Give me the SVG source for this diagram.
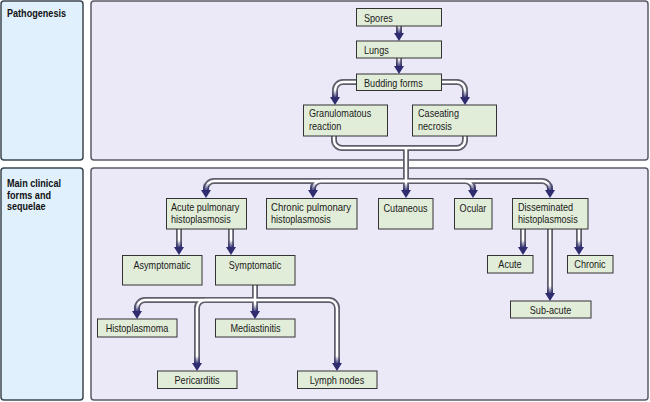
<svg xmlns="http://www.w3.org/2000/svg" xmlns:xlink="http://www.w3.org/1999/xlink" width="650" height="402" viewBox="0 0 650 402">
<style>
.lp{fill:#e0f0fd;stroke:#3b4550;stroke-width:1.5}
.rp{fill:#ebe8f8;stroke:#5b5b66;stroke-width:1.5}
.n{fill:#e2edd9;stroke:#333;stroke-width:1}
.h{font-family:"Liberation Sans",Arial,sans-serif;font-size:11.5px;font-weight:bold;fill:#111}
.t{font-family:"Liberation Sans",Arial,sans-serif;font-size:11px;fill:#1a1a1a}
.c{text-anchor:middle}
</style>
<defs>
<linearGradient id="fade" x1="0" y1="0" x2="0" y2="1">
<stop offset="0" stop-color="#2e2c6e" stop-opacity="0"/>
<stop offset="1" stop-color="#2e2c6e" stop-opacity="1"/>
</linearGradient>
<g id="ah">
<rect x="-3" y="-15" width="6" height="8" fill="url(#fade)"/>
<path d="M-5,-8 L5,-8 L0,0 Z" fill="#2e2c6e"/>
</g>
<g id="pipes" fill="none">
<path d="M399,26 V36"/>
<path d="M399,58 V69"/>
<path d="M356,82 H343 A8,8 0 0 0 335,90 V100"/>
<path d="M442,82 H457 A8,8 0 0 1 465,90 V100"/>
<path d="M334,136 V140 A8,8 0 0 0 342,148 H457 A8,8 0 0 0 465,140 V136"/>
<path d="M406,148 V193"/>
<path d="M406,181 H214 A8,8 0 0 0 206,189 V193"/>
<path d="M406,181 H321 A8,8 0 0 0 313,189 V193"/>
<path d="M406,181 H465 A8,8 0 0 1 473,189 V193"/>
<path d="M406,181 H542 A8,8 0 0 1 550,189 V193"/>
<path d="M179,229 V250"/>
<path d="M231,229 V250"/>
<path d="M523,229 V250"/>
<path d="M579,229 V250"/>
<path d="M550,229 V296"/>
<path d="M255,285 V314"/>
<path d="M255,300 H145 A8,8 0 0 0 137,308 V314"/>
<path d="M255,300 H329 A8,8 0 0 1 337,308 V366"/>
<path d="M255,300 H205 A8,8 0 0 0 197,308 V366"/>
</g>
</defs>

<g id="panel-pathogenesis">
<rect class="lp" x="1" y="1" width="82" height="159" rx="3"/>
<text class="h" x="7" y="17" textLength="59" lengthAdjust="spacingAndGlyphs">Pathogenesis</text>
</g>
<g id="panel-pathogenesis-area">
<rect class="rp" x="91" y="1" width="557" height="159" rx="3"/>
</g>
<g id="panel-clinical">
<rect class="lp" x="1" y="168" width="82" height="232" rx="3"/>
<text class="h" x="7" y="187" textLength="54" lengthAdjust="spacingAndGlyphs">Main clinical</text>
<text class="h" x="7" y="198.5" textLength="44" lengthAdjust="spacingAndGlyphs">forms and</text>
<text class="h" x="7" y="210" textLength="38.5" lengthAdjust="spacingAndGlyphs">sequelae</text>
</g>
<g id="panel-clinical-area">
<rect class="rp" x="91" y="168" width="557" height="232" rx="3"/>
</g>

<g id="connectors">
<use xlink:href="#pipes" stroke="#5f5f6c" stroke-width="6"/>
<use xlink:href="#pipes" stroke="#ffffff" stroke-width="2.5"/>
<use xlink:href="#ah" x="399" y="41"/>
<use xlink:href="#ah" x="399" y="74"/>
<use xlink:href="#ah" x="335" y="105"/>
<use xlink:href="#ah" x="465" y="105"/>
<use xlink:href="#ah" x="206" y="198"/>
<use xlink:href="#ah" x="313" y="198"/>
<use xlink:href="#ah" x="406" y="198"/>
<use xlink:href="#ah" x="473" y="198"/>
<use xlink:href="#ah" x="550" y="198"/>
<use xlink:href="#ah" x="179" y="255"/>
<use xlink:href="#ah" x="231" y="255"/>
<use xlink:href="#ah" x="523" y="255"/>
<use xlink:href="#ah" x="579" y="255"/>
<use xlink:href="#ah" x="550" y="301"/>
<use xlink:href="#ah" x="137" y="319"/>
<use xlink:href="#ah" x="255" y="319"/>
<use xlink:href="#ah" x="197" y="371"/>
<use xlink:href="#ah" x="337" y="371"/>
</g>

<g id="spores"><rect class="n" x="356.5" y="8.5" width="85" height="17.5"/><text class="t" x="364" y="21.5" textLength="28.8" lengthAdjust="spacingAndGlyphs">Spores</text></g>
<g id="lungs"><rect class="n" x="356.5" y="41" width="85" height="17"/><text class="t" x="364" y="54" textLength="24.8" lengthAdjust="spacingAndGlyphs">Lungs</text></g>
<g id="budding"><rect class="n" x="356.5" y="74" width="85" height="16.5"/><text class="t" x="364" y="86.5" textLength="58.7" lengthAdjust="spacingAndGlyphs">Budding forms</text></g>
<g id="granulomatous"><rect class="n" x="303.5" y="105" width="84" height="31"/><text class="t" x="309" y="117" textLength="62.2" lengthAdjust="spacingAndGlyphs">Granulomatous</text><text class="t" x="309" y="129.5" textLength="32.4" lengthAdjust="spacingAndGlyphs">reaction</text></g>
<g id="caseating"><rect class="n" x="412.5" y="105" width="84" height="31"/><text class="t" x="418" y="117" textLength="41" lengthAdjust="spacingAndGlyphs">Caseating</text><text class="t" x="418" y="129.5" textLength="33.9" lengthAdjust="spacingAndGlyphs">necrosis</text></g>

<g id="acute-pulmonary"><rect class="n" x="166.5" y="198.5" width="80" height="30.5"/><text class="t" x="171" y="210.5" textLength="68.3" lengthAdjust="spacingAndGlyphs">Acute pulmonary</text><text class="t" x="171" y="222.5" textLength="59.7" lengthAdjust="spacingAndGlyphs">histoplasmosis</text></g>
<g id="chronic-pulmonary"><rect class="n" x="266.5" y="198.5" width="90.5" height="30.5"/><text class="t" x="271" y="210.5" textLength="80" lengthAdjust="spacingAndGlyphs">Chronic pulmonary</text><text class="t" x="271" y="222.5" textLength="59.7" lengthAdjust="spacingAndGlyphs">histoplasmosis</text></g>
<g id="cutaneous"><rect class="n" x="378.5" y="198.5" width="54.5" height="30.5"/><text class="t c" x="405.5" y="212" textLength="44" lengthAdjust="spacingAndGlyphs">Cutaneous</text></g>
<g id="ocular"><rect class="n" x="454.5" y="198.5" width="37.5" height="30.5"/><text class="t c" x="473" y="212" textLength="26.8" lengthAdjust="spacingAndGlyphs">Ocular</text></g>
<g id="disseminated"><rect class="n" x="512.5" y="198.5" width="75.5" height="30.5"/><text class="t" x="518" y="210.5" textLength="55.1" lengthAdjust="spacingAndGlyphs">Disseminated</text><text class="t" x="518" y="222.5" textLength="59.7" lengthAdjust="spacingAndGlyphs">histoplasmosis</text></g>

<g id="asymptomatic"><rect class="n" x="122.5" y="255.5" width="79.5" height="29.5"/><text class="t c" x="162" y="269" textLength="57.1" lengthAdjust="spacingAndGlyphs">Asymptomatic</text></g>
<g id="symptomatic"><rect class="n" x="215.5" y="255.5" width="79.5" height="29.5"/><text class="t c" x="255" y="269" textLength="52.6" lengthAdjust="spacingAndGlyphs">Symptomatic</text></g>
<g id="acute"><rect class="n" x="487.5" y="255.5" width="45.5" height="17.5"/><text class="t c" x="510" y="268" textLength="23.3" lengthAdjust="spacingAndGlyphs">Acute</text></g>
<g id="chronic"><rect class="n" x="567.5" y="255.5" width="45.5" height="17.5"/><text class="t c" x="590" y="268" textLength="31.3" lengthAdjust="spacingAndGlyphs">Chronic</text></g>
<g id="sub-acute"><rect class="n" x="510.5" y="301" width="80.5" height="17"/><text class="t c" x="550.5" y="313.5" textLength="41.5" lengthAdjust="spacingAndGlyphs">Sub-acute</text></g>

<g id="histoplasmoma"><rect class="n" x="97.5" y="319" width="79.5" height="18"/><text class="t c" x="137" y="332" textLength="62.7" lengthAdjust="spacingAndGlyphs">Histoplasmoma</text></g>
<g id="mediastinitis"><rect class="n" x="215.5" y="319" width="79.5" height="18"/><text class="t c" x="255.5" y="332" textLength="50.1" lengthAdjust="spacingAndGlyphs">Mediastinitis</text></g>
<g id="pericarditis"><rect class="n" x="157.5" y="371" width="79.5" height="17.5"/><text class="t c" x="197" y="384" textLength="45" lengthAdjust="spacingAndGlyphs">Pericarditis</text></g>
<g id="lymph-nodes"><rect class="n" x="297.5" y="371" width="79.5" height="17.5"/><text class="t c" x="337" y="384" textLength="54.6" lengthAdjust="spacingAndGlyphs">Lymph nodes</text></g>
</svg>
